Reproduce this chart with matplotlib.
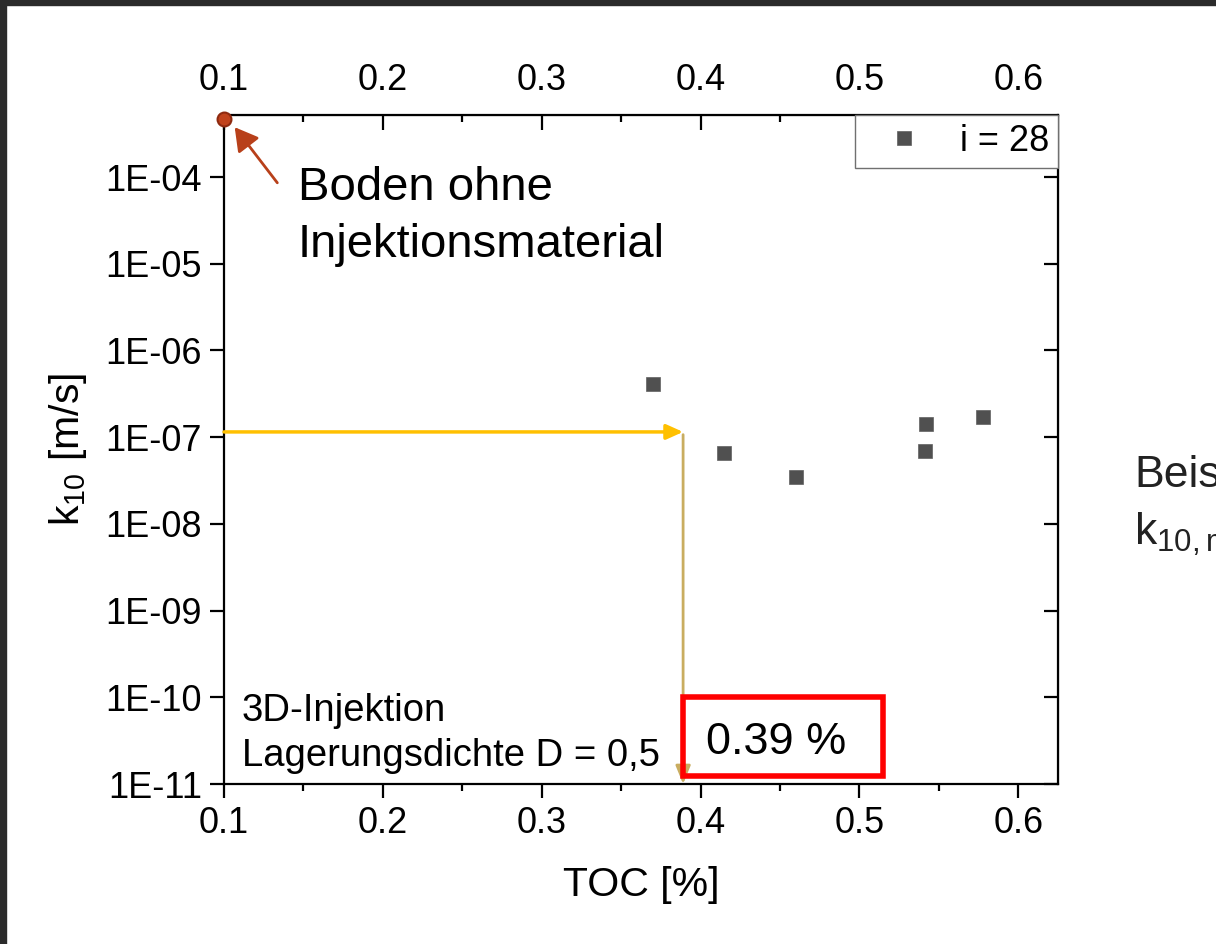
import matplotlib
matplotlib.use('Agg')
import matplotlib.pyplot as plt
from matplotlib.patches import Rectangle, FancyArrowPatch
from matplotlib.ticker import FixedLocator, MultipleLocator

plt.rcParams['font.family'] = ['Liberation Sans', 'DejaVu Sans']
plt.rcParams['mathtext.fontset'] = 'custom'
plt.rcParams['mathtext.rm'] = 'Liberation Sans'
plt.rcParams['mathtext.it'] = 'Liberation Sans:italic'

toc = [0.370, 0.415, 0.460, 0.542, 0.541, 0.578]
k10 = [4.1e-7, 6.5e-8, 3.5e-8, 1.43e-7, 6.9e-8, 1.71e-7]

# Boden ohne Injektionsmaterial
toc_boden = [0.1]
k10_boden = [4.7e-4]

# Ablesebeispiel
k10_ziel = 1.15e-7
toc_ziel = 0.389

xticks = [0.1, 0.2, 0.3, 0.4, 0.5, 0.6]
yticks = [1e-4, 1e-5, 1e-6, 1e-7, 1e-8, 1e-9, 1e-10, 1e-11]
ytick_labels = ['1E-04', '1E-05', '1E-06', '1E-07', '1E-08', '1E-09', '1E-10', '1E-11']

W, H = 1216, 944
fig = plt.figure(figsize=(W / 100, H / 100), dpi=100)
ax = fig.add_axes([224 / W, 1 - 784 / H, (1058 - 224) / W, (784 - 115) / H])


def fx(px):
    return px / W


def fy(py):
    return 1 - py / H


ax.set_yscale('log')
ax.set_xlim(0.1, 0.625)
ax.set_ylim(1e-11, 5.2e-4)

punkte, = ax.plot(toc, k10, 's', color='#505050', markersize=10.5, markeredgecolor='#606060',
                  markeredgewidth=0.5, label='i = 28', zorder=5, clip_on=False)
ax.plot(toc_boden, k10_boden, 'o', color='#c0421c', markeredgecolor='#8e2a10',
        markersize=10, markeredgewidth=1.5, zorder=6, clip_on=False)

# Ablesepfeile
ax.annotate('', xy=(toc_ziel, k10_ziel), xytext=(0.1, k10_ziel),
            arrowprops=dict(arrowstyle='-|>,head_length=1.0,head_width=0.45',
                            color='#ffc000', lw=2.5, shrinkA=0, shrinkB=0))
ax.annotate('', xy=(toc_ziel, 1e-11), xytext=(toc_ziel, k10_ziel * 0.93),
            arrowprops=dict(arrowstyle='-|>,head_length=1.1,head_width=0.45',
                            color='#c9ad60', lw=2, shrinkA=0, shrinkB=0))

# Achsen
for s in ax.spines.values():
    s.set_linewidth(1.6)
ax.set_xticks(xticks)
ax.set_xticklabels([f'{v:.1f}' for v in xticks])
ax.xaxis.set_minor_locator(MultipleLocator(0.05))
ax.yaxis.set_major_locator(FixedLocator(yticks))
ax.set_yticklabels(ytick_labels)
ax.yaxis.set_minor_locator(FixedLocator([]))
ax.tick_params(axis='both', which='major', labelsize=26, direction='out',
               length=10, width=1.6, pad=6)
ax.tick_params(axis='x', which='minor', direction='out', length=5, width=1.6)

top = ax.secondary_xaxis('top')
top.set_xticks(xticks)
top.set_xticklabels([f'{v:.1f}' for v in xticks])
top.xaxis.set_minor_locator(MultipleLocator(0.05))
top.tick_params(which='major', direction='in', length=11, width=1.6, labelsize=26, pad=12)
top.tick_params(which='minor', direction='in', length=5, width=1.6)

right = ax.secondary_yaxis('right')
right.yaxis.set_major_locator(FixedLocator(yticks))
right.yaxis.set_minor_locator(FixedLocator([]))
right.tick_params(which='major', direction='in', length=10, width=1.6, labelright=False)

ax.set_xlabel('TOC [%]', fontsize=29.5, labelpad=18)
ax.set_ylabel(r'$\mathregular{k_{10}}$ [m/s]', fontsize=29.5, labelpad=12)

# Legende über den Achsen, damit die Ticks sie nicht durchstoßen
leg = fig.legend(handles=[punkte], loc='upper right', fontsize=26, frameon=True,
                 fancybox=False, bbox_to_anchor=(fx(1058), fy(115)),
                 bbox_transform=fig.transFigure, borderaxespad=0,
                 handletextpad=0.45, borderpad=0.25, markerscale=0.9,
                 handlelength=2.2, framealpha=1)
leg.get_frame().set_edgecolor('#707070')
leg.get_frame().set_linewidth(1.0)

# Beschriftungen
fig.text(fx(298), fy(200), 'Boden ohne', fontsize=34, va='baseline', ha='left')
fig.text(fx(298), fy(257), 'Injektionsmaterial', fontsize=34, va='baseline', ha='left')
fig.add_artist(FancyArrowPatch(
    (fx(279), fy(185)), (fx(233), fy(125)), transform=fig.transFigure,
    arrowstyle='-|>,head_length=7,head_width=4', color='#b8401a', lw=2,
    mutation_scale=2))

fig.text(fx(242), fy(721), '3D-Injektion', fontsize=27.5, va='baseline', ha='left')
fig.text(fx(242), fy(766), 'Lagerungsdichte D = 0,5', fontsize=27.5, va='baseline', ha='left')

fig.add_artist(Rectangle((fx(683), fy(776)), fx(883) - fx(683), fy(697) - fy(776),
                         transform=fig.transFigure, fill=False, edgecolor='#ff0000',
                         linewidth=4, zorder=10))
fig.text(fx(776), fy(754), '0.39 %', fontsize=32.5, va='baseline', ha='center')

# rechts vom Bildrand abgeschnittener Text (wie im Original)
fig.text(fx(1134), fy(487), 'Beispiel', fontsize=32, va='baseline', ha='left', color='#222222')
fig.text(fx(1134), fy(545), r'$\mathregular{k_{10,min}}$', fontsize=32, va='baseline',
         ha='left', color='#222222')

# dunkler Rahmen (links und oben)
fig.add_artist(Rectangle((0, 0), fx(6), 1, transform=fig.transFigure,
                         color='#2b2b2b', zorder=20))
fig.add_artist(Rectangle((0, fy(5)), 1, fy(0) - fy(5), transform=fig.transFigure,
                         color='#2b2b2b', zorder=20))

fig.savefig('out.png', dpi=100)
